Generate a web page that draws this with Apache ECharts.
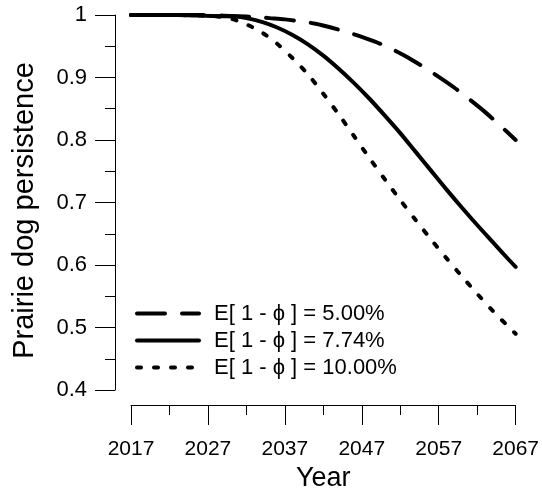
<!DOCTYPE html>
<html>
<head>
<meta charset="utf-8">
<script src="https://cdn.jsdelivr.net/npm/echarts@6/dist/echarts.min.js"></script>
<style>html,body{margin:0;padding:0;background:#fff}#c{width:542px;height:498px}</style>
</head>
<body>
<div id="c"></div>
<script>
const seriesNames = ["E[ 1 - \u03D5 ] = 5.00%", "E[ 1 - \u03D5 ] = 7.74%", "E[ 1 - \u03D5 ] = 10.00%"];
const years5 = [2017,2020,2023,2026,2029,2031,2033,2035,2037,2039,2041,2043,2045,2047,2049,2051,2053,2055,2057,2059,2061,2063,2065,2067];
const vals5  = [1.000,1.000,1.000,1.000,0.999,0.998,0.997,0.995,0.993,0.990,0.986,0.980,0.973,0.965,0.956,0.945,0.932,0.917,0.901,0.884,0.865,0.845,0.823,0.800];
const years774 = [2017,2020,2023,2026,2029,2031,2032,2034,2036,2038,2040,2042,2044,2046,2048,2050,2052,2054,2056,2058,2060,2062,2064,2066,2067];
const vals774  = [1.000,1.000,1.000,0.999,0.998,0.997,0.995,0.989,0.980,0.968,0.953,0.935,0.914,0.891,0.866,0.839,0.811,0.781,0.751,0.721,0.692,0.664,0.637,0.610,0.597];
const years10 = [2017,2020,2023,2026,2028,2030,2032,2034,2036,2038,2040,2042,2044,2046,2048,2050,2052,2054,2056,2058,2060,2062,2064,2066,2067];
const vals10  = [1.000,1.000,1.000,0.999,0.998,0.994,0.985,0.972,0.954,0.931,0.905,0.874,0.841,0.806,0.771,0.737,0.704,0.672,0.641,0.611,0.582,0.554,0.527,0.502,0.490];
const xTicks = [2017,2027,2037,2047,2057,2067];
const yTicks = [0.4,0.5,0.6,0.7,0.8,0.9,1];

const FONT = "'Liberation Sans', Arial, sans-serif";
const DASH = [28, 17];
const DOT = [4, 13];
const pair = (xs, vs) => xs.map((x, i) => [x, vs[i]]);
const mk = (name, data, type) => ({
  name, type: 'line', data, smooth: 0.3, symbol: 'none', clip: false, color: '#000',
  lineStyle: { color: '#000', width: 4, type, cap: 'round', join: 'round' },
  emphasis: { disabled: true }
});
const legItem = (name, type) => ({
  name, itemStyle: { opacity: 0 },
  lineStyle: { color: '#000', width: 4, type, cap: 'round', opacity: 1 }
});

const chart = echarts.init(document.getElementById('c'), null, { renderer: 'canvas' });
chart.setOption({
  animation: false,
  backgroundColor: '#fff',
  grid: { left: 131, right: 25, top: 15, bottom: 108, containLabel: false },
  xAxis: {
    type: 'value', min: xTicks[0], max: xTicks[xTicks.length - 1], interval: 10, offset: 15,
    name: 'Year', nameLocation: 'middle', nameGap: 60,
    nameTextStyle: { fontFamily: FONT, fontSize: 27, color: '#000' },
    axisLine: { show: true, onZero: false, lineStyle: { color: '#000', width: 1 } },
    axisTick: { show: true, inside: false, length: 20, lineStyle: { color: '#000', width: 1 } },
    minorTick: { show: true, splitNumber: 2, length: 10, lineStyle: { color: '#000', width: 1 } },
    splitLine: { show: false },
    axisLabel: { fontFamily: FONT, fontSize: 21, color: '#000', margin: 34, formatter: v => String(v) }
  },
  yAxis: {
    type: 'value', min: yTicks[0], max: yTicks[yTicks.length - 1], interval: 0.1, offset: 16,
    name: 'Prairie dog persistence', nameLocation: 'middle', nameGap: 76,
    nameTextStyle: { fontFamily: FONT, fontSize: 29, color: '#000', padding: [0, 16, 0, 0] },
    axisLine: { show: true, onZero: false, lineStyle: { color: '#000', width: 1 } },
    axisTick: { show: true, inside: false, length: 20, lineStyle: { color: '#000', width: 1 } },
    minorTick: { show: true, splitNumber: 2, length: 10, lineStyle: { color: '#000', width: 1 } },
    splitLine: { show: false },
    axisLabel: { fontFamily: FONT, fontSize: 22, color: '#000', margin: 28,
      formatter: v => String(+v.toFixed(1)) }
  },
  legend: {
    orient: 'vertical', left: 130, top: 296, itemWidth: 62, itemHeight: 14, itemGap: 2,
    itemStyle: { opacity: 0 },
    lineStyle: { width: 4, cap: 'round' },
    textStyle: { fontFamily: FONT, fontSize: 22, lineHeight: 25, color: '#000', padding: [0, 0, 0, 10] },
    data: [legItem(seriesNames[0], DASH), legItem(seriesNames[1], 'solid'), legItem(seriesNames[2], DOT)]
  },
  series: [
    mk(seriesNames[0], pair(years5, vals5), DASH),
    mk(seriesNames[1], pair(years774, vals774), 'solid'),
    mk(seriesNames[2], pair(years10, vals10), DOT)
  ]
});
</script>
</body>
</html>
